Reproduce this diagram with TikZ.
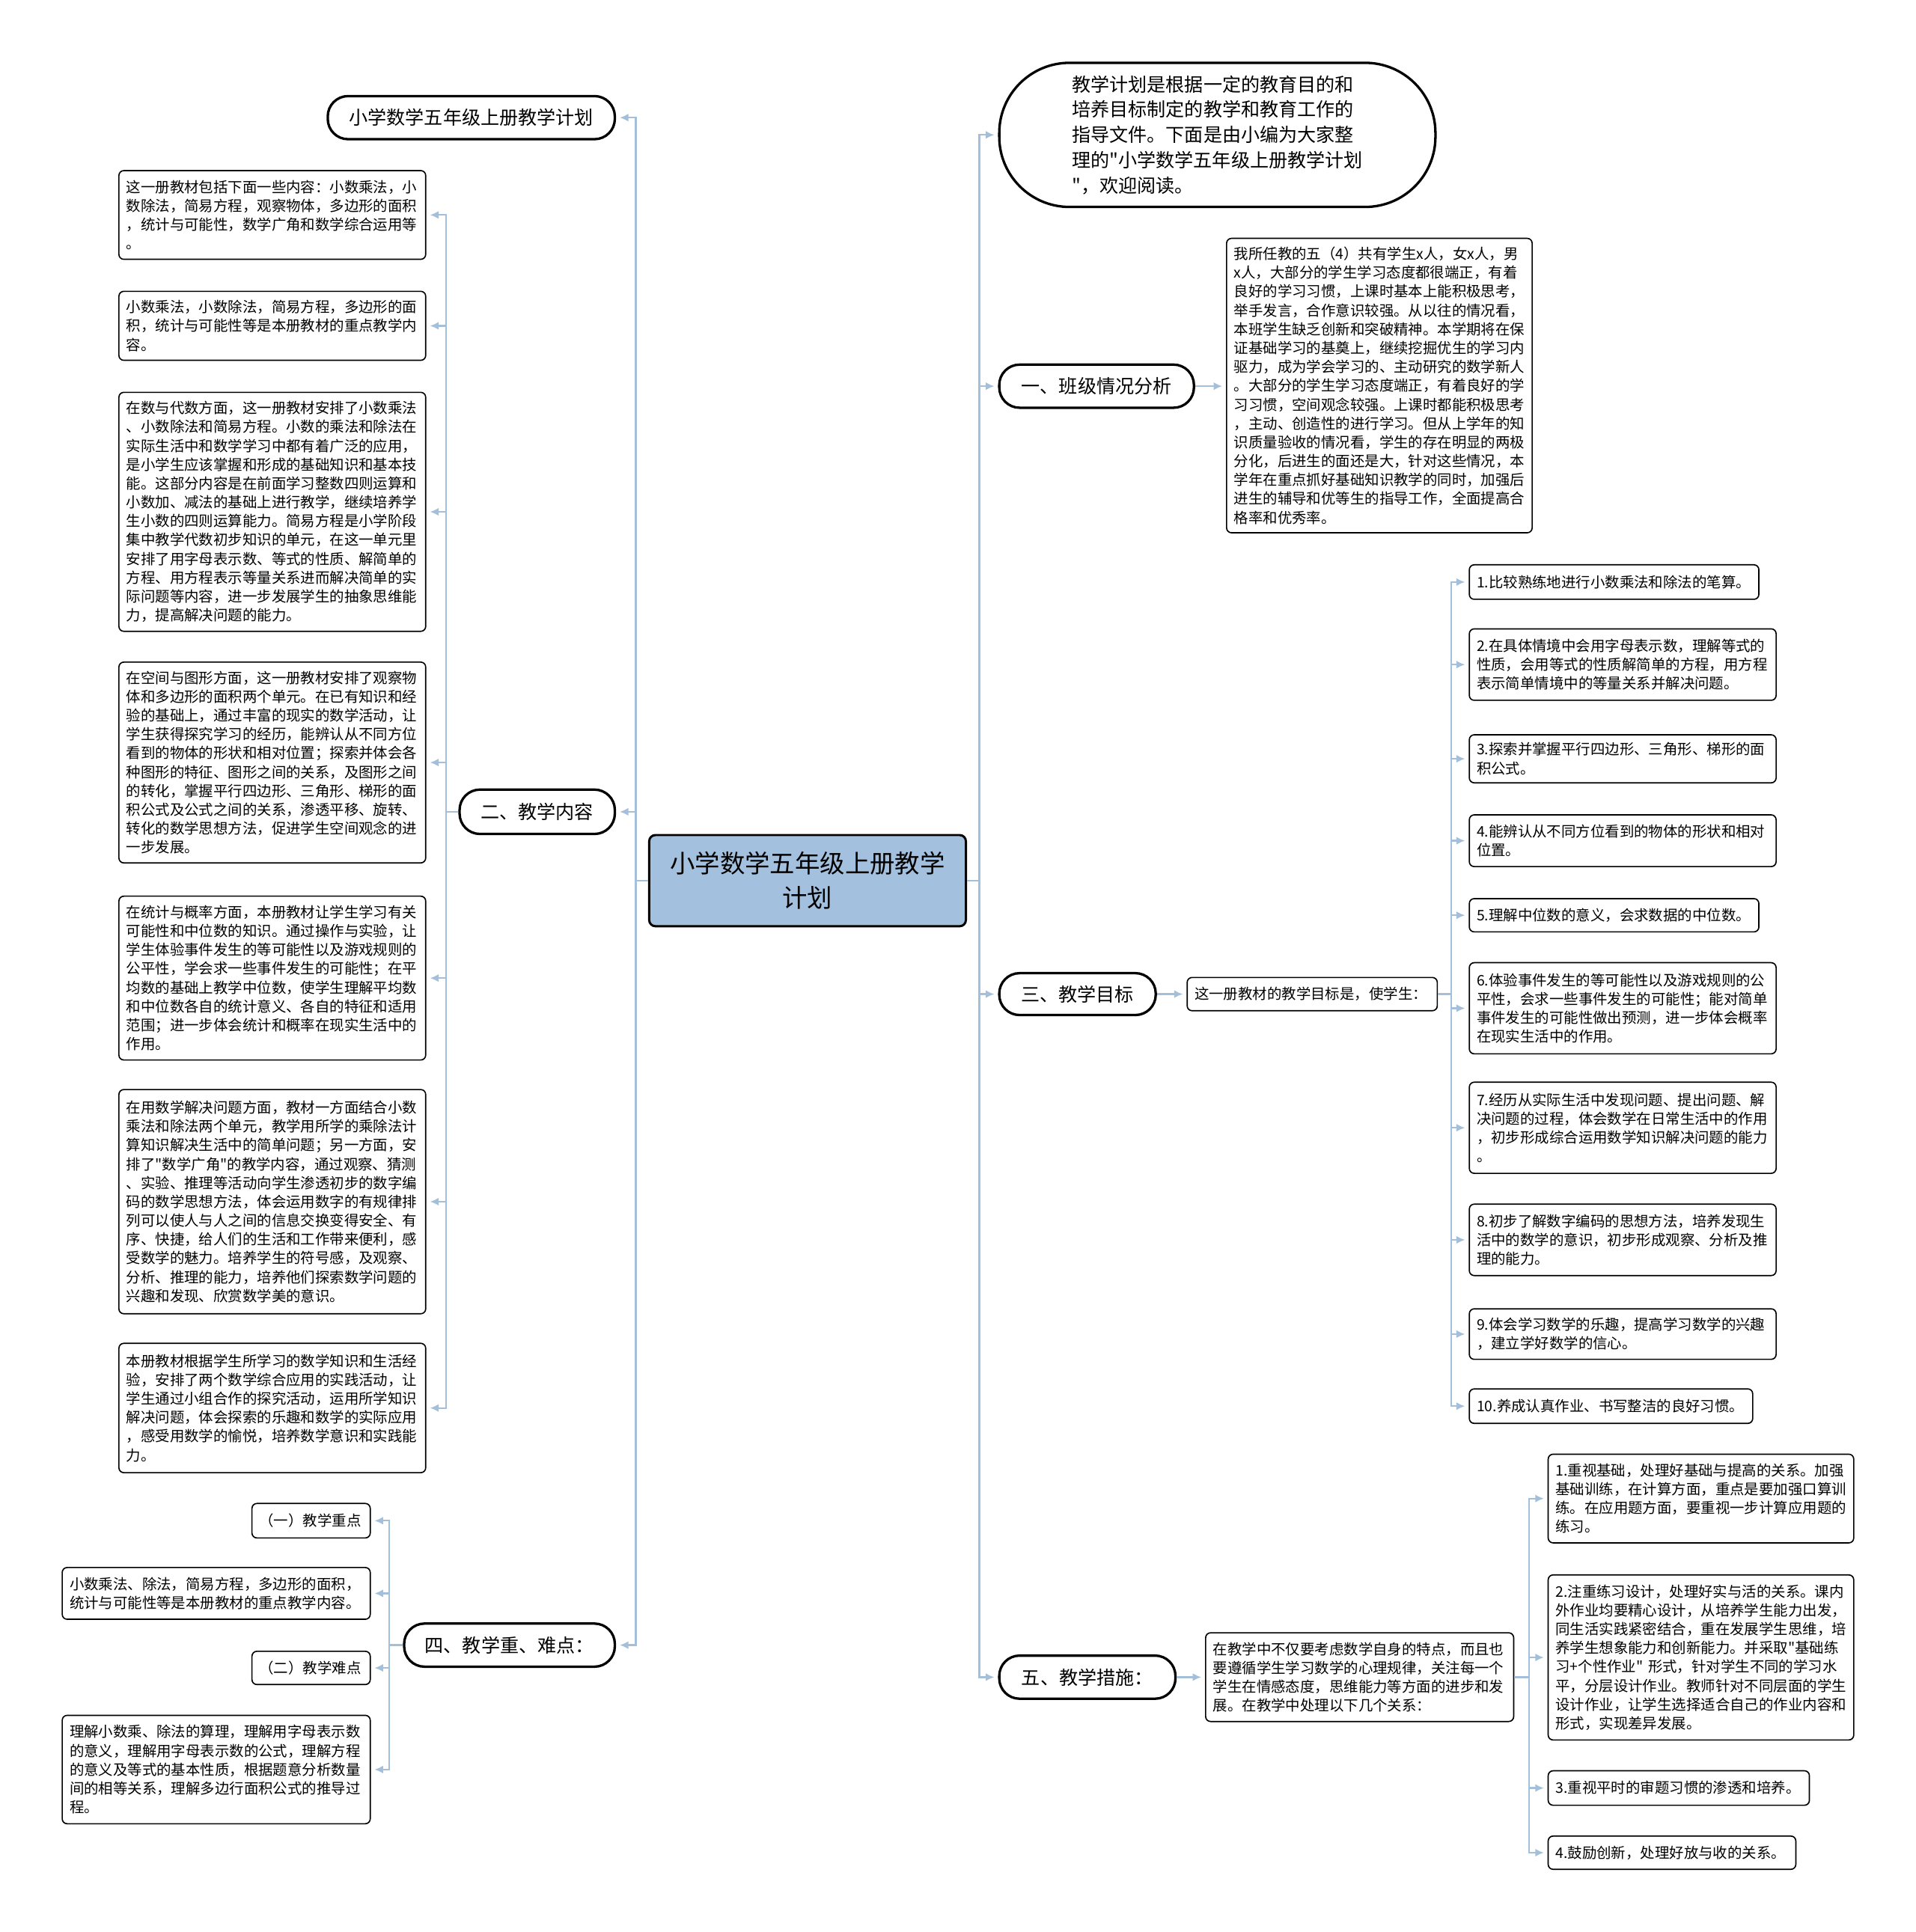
\documentclass[tikz,border=0pt]{standalone}
\usepackage{fontspec}
\newfontfamily\cjk{Noto Sans CJK SC}
\usetikzlibrary{arrows.meta}
\definecolor{linie}{HTML}{A3BFD9}
\definecolor{wurzelblau}{HTML}{A3C1DE}
\tikzset{
    kasten/.style={draw, line width=1pt, rounded corners=4pt, anchor=north west, align=left, inner xsep=6pt, inner ysep=2pt, font=\cjk\fontsize{11.8pt}{15.3pt}\selectfont},
    kapsel/.style={draw, line width=2pt, anchor=north west, align=left, inner sep=2pt, font=\cjk\fontsize{15.25pt}{20.5pt}\selectfont},
    wurzel/.style={draw, line width=1.8pt, fill=wurzelblau, rounded corners=5pt, anchor=north west, align=center, font=\cjk\fontsize{20.3pt}{28pt}\selectfont},
    pfeil/.style={draw=linie, line width=1.4pt, -{Latex[length=7pt,width=6.5pt]}, shorten >=3pt}
}
\begin{document}
\begin{tikzpicture}[x=1pt, y=-1pt]
        \useasboundingbox (0,0) rectangle (1555,1568.4);
        \node[wurzel, minimum width=257pt, minimum height=74pt] (W) at (526,677) {小学数学五年级上册教学\\计划};

        \node[kapsel, rounded corners=16.5pt, minimum width=233pt, minimum height=35pt] (T) at (265,77) {小学数学五年级上册教学计划};
        \node[kapsel, rounded corners=16.5pt, minimum width=126pt, minimum height=36pt] (A2) at (372,640) {二、教学内容};
        \node[kapsel, rounded corners=16.5pt, minimum width=171pt, minimum height=35pt] (A4) at (327,1317) {四、教学重、难点：};
        \node[kapsel, rounded corners=57pt, minimum width=354pt, minimum height=117pt] (I) at (810,50) {教学计划是根据一定的教育目的和\\培养目标制定的教学和教育工作的\\指导文件。下面是由小编为大家整\\理的"小学数学五年级上册教学计划\\"，欢迎阅读。};
        \node[kapsel, rounded corners=16.5pt, minimum width=158pt, minimum height=35pt] (A1) at (810,295) {一、班级情况分析};
        \node[kapsel, rounded corners=16.5pt, minimum width=127pt, minimum height=34pt] (A3) at (810,789) {三、教学目标};
        \node[kapsel, rounded corners=16.5pt, minimum width=143pt, minimum height=35pt] (A5) at (810,1343) {五、教学措施：};

        \node[kasten, text width=237pt, minimum height=72pt] (A2a) at (96,138) {这一册教材包括下面一些内容：小数乘法，小\\数除法，简易方程，观察物体，多边形的面积\\，统计与可能性，数学广角和数学综合运用等\\。};
        \node[kasten, text width=237pt, minimum height=56pt] (A2b) at (96,236) {小数乘法，小数除法，简易方程，多边形的面\\积，统计与可能性等是本册教材的重点教学内\\容。};
        \node[kasten, text width=237pt, minimum height=194pt] (A2c) at (96,318) {在数与代数方面，这一册教材安排了小数乘法\\、小数除法和简易方程。小数的乘法和除法在\\实际生活中和数学学习中都有着广泛的应用，\\是小学生应该掌握和形成的基础知识和基本技\\能。这部分内容是在前面学习整数四则运算和\\小数加、减法的基础上进行教学，继续培养学\\生小数的四则运算能力。简易方程是小学阶段\\集中教学代数初步知识的单元，在这一单元里\\安排了用字母表示数、等式的性质、解简单的\\方程、用方程表示等量关系进而解决简单的实\\际问题等内容，进一步发展学生的抽象思维能\\力，提高解决问题的能力。};
        \node[kasten, text width=237pt, minimum height=163pt] (A2d) at (96,537) {在空间与图形方面，这一册教材安排了观察物\\体和多边形的面积两个单元。在已有知识和经\\验的基础上，通过丰富的现实的数学活动，让\\学生获得探究学习的经历，能辨认从不同方位\\看到的物体的形状和相对位置；探索并体会各\\种图形的特征、图形之间的关系，及图形之间\\的转化，掌握平行四边形、三角形、梯形的面\\积公式及公式之间的关系，渗透平移、旋转、\\转化的数学思想方法，促进学生空间观念的进\\一步发展。};
        \node[kasten, text width=237pt, minimum height=133pt] (A2e) at (96,727) {在统计与概率方面，本册教材让学生学习有关\\可能性和中位数的知识。通过操作与实验，让\\学生体验事件发生的等可能性以及游戏规则的\\公平性，学会求一些事件发生的可能性；在平\\均数的基础上教学中位数，使学生理解平均数\\和中位数各自的统计意义、各自的特征和适用\\范围；进一步体会统计和概率在现实生活中的\\作用。};
        \node[kasten, text width=237pt, minimum height=182pt] (A2f) at (96,884) {在用数学解决问题方面，教材一方面结合小数\\乘法和除法两个单元，教学用所学的乘除法计\\算知识解决生活中的简单问题；另一方面，安\\排了"数学广角"的教学内容，通过观察、猜测\\、实验、推理等活动向学生渗透初步的数字编\\码的数学思想方法，体会运用数字的有规律排\\列可以使人与人之间的信息交换变得安全、有\\序、快捷，给人们的生活和工作带来便利，感\\受数学的魅力。培养学生的符号感，及观察、\\分析、推理的能力，培养他们探索数学问题的\\兴趣和发现、欣赏数学美的意识。};
        \node[kasten, text width=237pt, minimum height=105pt] (A2g) at (96,1090) {本册教材根据学生所学习的数学知识和生活经\\验，安排了两个数学综合应用的实践活动，让\\学生通过小组合作的探究活动，运用所学知识\\解决问题，体会探索的乐趣和数学的实际应用\\，感受用数学的愉悦，培养数学意识和实践能\\力。};

        \node[kasten, text width=84pt, minimum height=28pt] (B1) at (204,1220) {（一）教学重点};
        \node[kasten, text width=238pt, minimum height=42pt] (B2) at (50,1272) {小数乘法、除法，简易方程，多边形的面积，\\统计与可能性等是本册教材的重点教学内容。};
        \node[kasten, text width=84pt, minimum height=27pt] (B3) at (204,1340) {（二）教学难点};
        \node[kasten, text width=238pt, minimum height=88pt] (B4) at (50,1392) {理解小数乘、除法的算理，理解用字母表示数\\的意义，理解用字母表示数的公式，理解方程\\的意义及等式的基本性质，根据题意分析数量\\间的相等关系，理解多边行面积公式的推导过\\程。};

        \node[kasten, text width=236pt, minimum height=239pt] (A1a) at (995,193) {我所任教的五（4）共有学生x人，女x人，男\\x人，大部分的学生学习态度都很端正，有着\\良好的学习习惯，上课时基本上能积极思考，\\举手发言，合作意识较强。从以往的情况看，\\本班学生缺乏创新和突破精神。本学期将在保\\证基础学习的基奠上，继续挖掘优生的学习内\\驱力，成为学会学习的、主动研究的数学新人\\。大部分的学生学习态度端正，有着良好的学\\习习惯，空间观念较强。上课时都能积极思考\\，主动、创造性的进行学习。但从上学年的知\\识质量验收的情况看，学生的存在明显的两极\\分化，后进生的面还是大，针对这些情况，本\\学年在重点抓好基础知识教学的同时，加强后\\进生的辅导和优等生的指导工作，全面提高合\\格率和优秀率。};

        \node[kasten, text width=191pt, minimum height=27pt] (Z) at (963,793) {这一册教材的教学目标是，使学生：};
        \node[kasten, text width=223pt, minimum height=28pt] (G1) at (1192,458) {1.比较熟练地进行小数乘法和除法的笔算。};
        \node[kasten, text width=237pt, minimum height=58pt] (G2) at (1192,510) {2.在具体情境中会用字母表示数，理解等式的\\性质，会用等式的性质解简单的方程，用方程\\表示简单情境中的等量关系并解决问题。};
        \node[kasten, text width=237pt, minimum height=39pt] (G3) at (1192,596) {3.探索并掌握平行四边形、三角形、梯形的面\\积公式。};
        \node[kasten, text width=237pt, minimum height=42pt] (G4) at (1192,661) {4.能辨认从不同方位看到的物体的形状和相对\\位置。};
        \node[kasten, text width=223pt, minimum height=27pt] (G5) at (1192,729) {5.理解中位数的意义，会求数据的中位数。};
        \node[kasten, text width=237pt, minimum height=74pt] (G6) at (1192,781) {6.体验事件发生的等可能性以及游戏规则的公\\平性，会求一些事件发生的可能性；能对简单\\事件发生的可能性做出预测，进一步体会概率\\在现实生活中的作用。};
        \node[kasten, text width=237pt, minimum height=74pt] (G7) at (1192,878) {7.经历从实际生活中发现问题、提出问题、解\\决问题的过程，体会数学在日常生活中的作用\\，初步形成综合运用数学知识解决问题的能力\\。};
        \node[kasten, text width=237pt, minimum height=58pt] (G8) at (1192,977) {8.初步了解数字编码的思想方法，培养发现生\\活中的数学的意识，初步形成观察、分析及推\\理的能力。};
        \node[kasten, text width=237pt, minimum height=41pt] (G9) at (1192,1062) {9.体会学习数学的乐趣，提高学习数学的兴趣\\，建立学好数学的信心。};
        \node[kasten, text width=218pt, minimum height=28pt] (G10) at (1192,1127) {10.养成认真作业、书写整洁的良好习惯。};

        \node[kasten, text width=238pt, minimum height=72pt] (M) at (978,1325) {在教学中不仅要考虑数学自身的特点，而且也\\要遵循学生学习数学的心理规律，关注每一个\\学生在情感态度，思维能力等方面的进步和发\\展。在教学中处理以下几个关系：};
        \node[kasten, text width=236pt, minimum height=72pt] (M1) at (1256,1180) {1.重视基础，处理好基础与提高的关系。加强\\基础训练，在计算方面，重点是要加强口算训\\练。在应用题方面，要重视一步计算应用题的\\练习。};
        \node[kasten, text width=236pt, minimum height=134pt] (M2) at (1256,1278) {2.注重练习设计，处理好实与活的关系。课内\\外作业均要精心设计，从培养学生能力出发，\\同生活实践紧密结合，重在发展学生思维，培\\养学生想象能力和创新能力。并采取"基础练\\习+个性作业" 形式，针对学生不同的学习水\\平，分层设计作业。教师针对不同层面的学生\\设计作业，让学生选择适合自己的作业内容和\\形式，实现差异发展。};
        \node[kasten, text width=200pt, minimum height=28pt] (M3) at (1256,1437) {3.重视平时的审题习惯的渗透和培养。};
        \node[kasten, text width=189pt, minimum height=27pt] (M4) at (1256,1490) {4.鼓励创新，处理好放与收的关系。};

        \foreach \k in {T,A2,A4}
            \draw[pfeil] (W.west) -- ++(-10,0) |- (\k.east);
        \foreach \k in {I,A1,A3,A5}
            \draw[pfeil] (W.east) -- ++(10,0) |- (\k.west);
        \foreach \k in {A2a,A2b,A2c,A2d,A2e,A2f,A2g}
            \draw[pfeil] (A2.west) -- ++(-10,0) |- (\k.east);
        \foreach \k in {B1,B2,B3,B4}
            \draw[pfeil] (A4.west) -- ++(-11,0) |- (\k.east);
        \draw[pfeil] (A1.east) -- (A1a.west |- A1.east);
        \draw[pfeil] (A3.east) -- (Z.west |- A3.east);
        \foreach \k in {G1,G2,G3,G4,G5,G6,G7,G8,G9,G10}
            \draw[pfeil] (Z.east) -- ++(11,0) |- (\k.west);
        \draw[pfeil] (A5.east) -- (M.west |- A5.east);
        \foreach \k in {M1,M2,M3,M4}
            \draw[pfeil] (M.east) -- ++(12,0) |- (\k.west);
    \end{tikzpicture}
\end{document}
